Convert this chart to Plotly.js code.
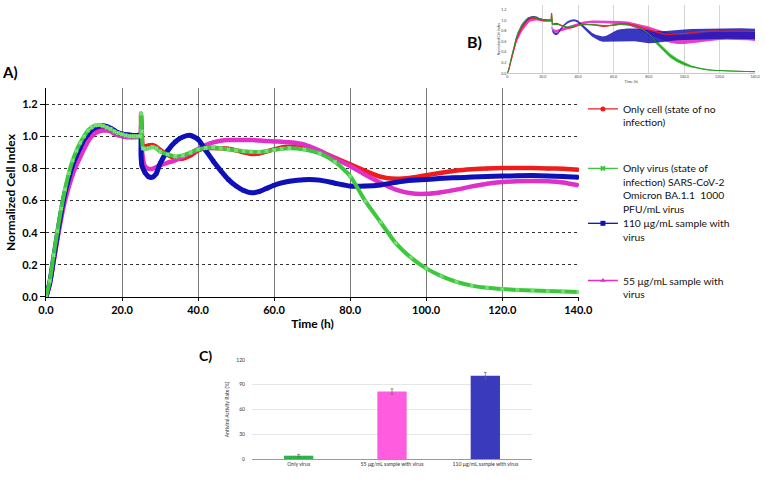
<!DOCTYPE html>
<html>
<head>
<meta charset="utf-8">
<script src="https://cdn.plot.ly/plotly-3.0.1.min.js"></script>
<style>html,body{margin:0;padding:0;background:#fff;}#chart{width:765px;height:490px;}</style>
</head>
<body>
<div id="chart"></div>
<script>
// ---------- DATA ----------
const timeH = [0,1,2,3,4,5,6,7,8,9,10,11,12,13,14,15,16,17,18,19,20,21,22,23,24,
  24.8,25,25.2,25.5,26,27,28,29,30,
  32,34,36,38,40,42,44,46,48,50,52,54,56,58,60,62,64,
  68,72,76,80,84,88,92,96,100,104,108,112,116,120,124,128,132,136,140];

const onlyCell = [0,0.085,0.23,0.375,0.51,0.625,0.715,0.79,0.85,0.9,0.95,0.99,1.02,1.04,1.05,1.05,1.045,1.035,1.02,1.01,1.005,1.0,0.998,0.997,0.998,
  0.998,1.14,1.03,0.93,0.935,0.942,0.945,0.935,0.915,
  0.885,0.862,0.862,0.88,0.912,0.925,0.927,0.925,0.922,0.912,0.9,0.89,0.893,0.905,0.918,0.93,0.935,
  0.935,0.908,0.865,0.825,0.785,0.748,0.735,0.742,0.758,0.773,0.787,0.795,0.8,0.802,0.803,0.802,0.8,0.797,0.792];

const onlyVirus = [0,0.1,0.26,0.41,0.55,0.67,0.77,0.85,0.91,0.96,1.0,1.035,1.055,1.068,1.07,1.065,1.055,1.045,1.03,1.02,1.012,1.005,1.0,1.0,1.0,
  1.0,1.14,1.03,0.925,0.922,0.925,0.933,0.925,0.905,
  0.887,0.874,0.88,0.898,0.918,0.927,0.93,0.925,0.918,0.912,0.907,0.903,0.902,0.907,0.915,0.922,0.926,
  0.918,0.893,0.84,0.752,0.596,0.465,0.335,0.245,0.178,0.13,0.094,0.071,0.057,0.049,0.044,0.04,0.037,0.034,0.031];

const sample110 = [0,0.09,0.24,0.39,0.53,0.65,0.74,0.82,0.88,0.93,0.98,1.01,1.04,1.055,1.063,1.065,1.06,1.05,1.035,1.022,1.015,1.01,1.008,1.005,1.005,
  1.005,0.88,0.82,0.8,0.775,0.748,0.745,0.768,0.83,
  0.91,0.965,0.995,1.005,0.98,0.912,0.845,0.785,0.73,0.69,0.662,0.648,0.655,0.675,0.695,0.71,0.72,
  0.73,0.727,0.708,0.69,0.69,0.697,0.713,0.726,0.731,0.738,0.742,0.746,0.75,0.752,0.754,0.755,0.753,0.75,0.745];

const sample55 = [0,0.08,0.22,0.36,0.49,0.6,0.685,0.76,0.82,0.87,0.92,0.965,1.0,1.02,1.03,1.035,1.035,1.03,1.015,1.005,1.0,0.995,0.993,0.993,0.995,
  0.995,1.07,0.94,0.86,0.815,0.797,0.797,0.808,0.82,
  0.835,0.85,0.873,0.895,0.92,0.945,0.962,0.972,0.976,0.977,0.977,0.976,0.974,0.97,0.968,0.965,0.962,
  0.948,0.91,0.86,0.815,0.76,0.71,0.668,0.645,0.642,0.652,0.668,0.688,0.705,0.715,0.72,0.722,0.72,0.712,0.695];

// standard deviations (panel B)
const sd110 = [0,0.01,0.015,0.02,0.02,0.02,0.02,0.02,0.02,0.02,0.02,0.02,0.02,0.02,0.02,0.02,0.02,0.02,0.015,0.015,0.015,0.015,0.015,0.015,0.015,
  0.015,0.02,0.02,0.02,0.02,0.02,0.02,0.02,0.02,
  0.02,0.02,0.02,0.02,0.02,0.025,0.03,0.03,0.035,0.04,0.045,0.05,0.055,0.07,0.1,0.11,0.115,
  0.12,0.12,0.12,0.12,0.11,0.1,0.1,0.1,0.1,0.1,0.1,0.1,0.1,0.1,0.1,0.1,0.1,0.1,0.1];

const sd55 = [0,0.02,0.03,0.04,0.04,0.045,0.045,0.045,0.045,0.045,0.045,0.045,0.045,0.04,0.04,0.04,0.035,0.03,0.025,0.02,0.02,0.02,0.02,0.02,0.02,
  0.02,0.03,0.03,0.03,0.03,0.03,0.03,0.03,0.03,
  0.03,0.03,0.03,0.03,0.025,0.025,0.025,0.025,0.025,0.025,0.025,0.025,0.025,0.025,0.025,0.03,0.03,
  0.035,0.045,0.06,0.07,0.08,0.09,0.09,0.09,0.085,0.085,0.085,0.085,0.085,0.085,0.085,0.085,0.085,0.085,0.085];

const sdVirus = [0,0.008,0.008,0.008,0.008,0.008,0.008,0.008,0.008,0.008,0.008,0.008,0.008,0.008,0.008,0.008,0.008,0.008,0.008,0.008,0.008,0.008,0.008,0.008,0.008,
  0.008,0.008,0.008,0.008,0.008,0.008,0.008,0.008,0.008,
  0.01,0.01,0.01,0.01,0.01,0.01,0.01,0.01,0.01,0.01,0.01,0.01,0.01,0.01,0.01,0.01,0.01,
  0.01,0.01,0.012,0.02,0.035,0.04,0.04,0.035,0.03,0.02,0.015,0.01,0.01,0.01,0.01,0.01,0.01,0.01,0.01];

// panel C
const barCats = ["Only virus", "55 μg/mL sample with virus", "110 μg/mL sample with virus"];
const barVals = [4.0, 81.8, 101.0];
const barErr = [1.6, 3.2, 4.0];

const tickVals = [0,20,40,60,80,100,120,140];
const tickTextB = ["0","20.0","40.0","60.0","80.0","100.0","120.0","140.0"];

// legend labels
const nameCell = "Only cell (state of no<br>infection)";
const nameVirus = "Only virus (state of<br>infection) SARS-CoV-2<br>Omicron BA.1.1  1000<br>PFU/mL virus";
const name110 = "110 μg/mL sample with<br>virus";
const name55 = "55 μg/mL sample with<br>virus";

// ---------- STYLE ----------
const FONT = "Lato, 'Liberation Sans', sans-serif";
const C_RED = "#EE1C1C", C_GREEN = "#3CC83C", C_BLUE = "#1010B8", C_PINK = "#E030C8";
const C_BAR = ["#2DB34A", "#FF5CE0", "#3A3ABC"];

function plus(a, s){ return a.map((v,i)=>v+s[i]); }
function minus(a, s){ return a.map((v,i)=>v-s[i]); }

const spl = {shape:"spline", smoothing:0.6};
function keyTrace(name, color, symbol, legendId){
  return {x:[null], y:[null], type:"scatter", mode:"lines+markers", name:name,
    line:{color:color, width:1.3}, marker:{symbol:symbol, size:5, color:color}, legend:legendId, hoverinfo:"skip"};
}
const traces = [
  // Panel A
  {x: timeH, y: onlyCell, type:"scatter", mode:"lines+markers", showlegend:false,
   line:Object.assign({color:C_RED, width:4.5}, spl), marker:{symbol:"circle", size:4, color:C_RED}},
  {x: timeH, y: sample55, type:"scatter", mode:"lines+markers", showlegend:false,
   line:Object.assign({color:C_PINK, width:4.5}, spl), marker:{symbol:"triangle-up", size:4, color:C_PINK}},
  {x: timeH, y: sample110, type:"scatter", mode:"lines+markers", showlegend:false,
   line:Object.assign({color:C_BLUE, width:5}, spl), marker:{symbol:"square", size:4, color:C_BLUE}},
  {x: timeH, y: onlyVirus, type:"scatter", mode:"lines+markers", showlegend:false,
   line:Object.assign({color:C_GREEN, width:4}, spl), marker:{symbol:"x", size:4, color:"#7CE07C"}},
  // legend keys
  keyTrace(nameCell, C_RED, "circle", "legend"),
  keyTrace(nameVirus, C_GREEN, "x", "legend2"),
  keyTrace(name110, C_BLUE, "square", "legend3"),
  keyTrace(name55, C_PINK, "triangle-up", "legend4"),

  // Panel B bands
  {x: timeH, y: plus(onlyVirus, sdVirus), xaxis:"x2", yaxis:"y2", mode:"lines", line:{width:0, color:C_GREEN}, showlegend:false, hoverinfo:"skip"},
  {x: timeH, y: minus(onlyVirus, sdVirus), xaxis:"x2", yaxis:"y2", mode:"lines", fill:"tonexty", fillcolor:"rgba(40,190,40,0.9)", line:{width:0, color:C_GREEN}, showlegend:false, hoverinfo:"skip"},
  {x: timeH, y: plus(sample55, sd55), xaxis:"x2", yaxis:"y2", mode:"lines", line:{width:0, color:C_PINK}, showlegend:false, hoverinfo:"skip"},
  {x: timeH, y: minus(sample55, sd55), xaxis:"x2", yaxis:"y2", mode:"lines", fill:"tonexty", fillcolor:"rgba(230,40,200,0.9)", line:{width:0, color:C_PINK}, showlegend:false, hoverinfo:"skip"},
  {x: timeH, y: plus(sample110, sd110), xaxis:"x2", yaxis:"y2", mode:"lines", line:{width:0, color:C_BLUE}, showlegend:false, hoverinfo:"skip"},
  {x: timeH, y: minus(sample110, sd110), xaxis:"x2", yaxis:"y2", mode:"lines", fill:"tonexty", fillcolor:"rgba(20,20,180,0.85)", line:{width:0, color:C_BLUE}, showlegend:false, hoverinfo:"skip"},
  {x: timeH, y: onlyCell, xaxis:"x2", yaxis:"y2", mode:"lines", line:{width:1.2, color:C_RED}, showlegend:false, hoverinfo:"skip"},
  {x: timeH, y: onlyVirus, xaxis:"x2", yaxis:"y2", mode:"lines", line:{width:1, color:"#2A9A2A"}, showlegend:false, hoverinfo:"skip"},

  // Panel C
  {x: barCats, y: barVals, type:"bar", xaxis:"x3", yaxis:"y3", showlegend:false,
   marker:{color:C_BAR}, error_y:{type:"data", array:barErr, visible:true, color:"#666", thickness:0.7, width:1.5}}
];

const legendBase = {xanchor:"left", yanchor:"top", x:0.762, bgcolor:"rgba(0,0,0,0)", borderwidth:0,
  valign:"top", font:{family:FONT, size:10.3, color:"#111"}, itemwidth:30};

const layout = {
  width:765, height:490, autosize:false,
  margin:{l:0, r:0, t:0, b:0},
  paper_bgcolor:"#fff", plot_bgcolor:"rgba(0,0,0,0)",
  font:{family:FONT, color:"#000"},
  showlegend:true,
  legend: Object.assign({}, legendBase, {y:0.8046}),
  legend2: Object.assign({}, legendBase, {y:0.6832}),
  legend3: Object.assign({}, legendBase, {y:0.5712}),
  legend4: Object.assign({}, legendBase, {y:0.4545}),
  // Panel A
  xaxis:{domain:[0.06013,0.75686], range:[0,140.2], tickvals:tickVals, tickformat:".1f",
    showgrid:true, gridcolor:"#7a7a7a", gridwidth:1, zeroline:false,
    showline:true, linecolor:"#000", linewidth:1.2, ticks:"outside", ticklen:3, tickcolor:"#000",
    tickfont:{family:FONT, size:11, weight:"bold", color:"#000"},
    title:{text:"Time (h)", font:{family:FONT, size:12, weight:"bold", color:"#000"}, standoff:4}, anchor:"y"},
  yaxis:{domain:[0.39388,0.82041], range:[0,1.3], tickvals:[0,0.2,0.4,0.6,0.8,1.0,1.2], tickformat:".1f",
    showgrid:true, gridcolor:"#333", gridwidth:1, griddash:"dot", zeroline:false,
    showline:true, linecolor:"#000", linewidth:1.2, ticks:"outside", ticklen:5, tickcolor:"#000",
    tickfont:{family:FONT, size:11, weight:"bold", color:"#000"},
    title:{text:"Normalized Cell Index", font:{family:FONT, size:12, weight:"bold", color:"#000"}, standoff:4}, anchor:"x"},
  // Panel B
  xaxis2:{domain:[0.66314,0.98693], range:[0,140], tickvals:tickVals, ticktext:tickTextB,
    showgrid:true, gridcolor:"#d6d6d6", zeroline:false, showline:true, linecolor:"#bbb", linewidth:0.8, ticks:"",
    tickfont:{family:FONT, size:3.6, color:"#444"},
    title:{text:"Time (h)", font:{family:FONT, size:3.8, color:"#444"}, standoff:1}, anchor:"y2"},
  yaxis2:{domain:[0.85041,0.99041], range:[0,1.3], tickvals:[0,0.2,0.4,0.6,0.8,1.0,1.2], tickformat:".1f",
    showgrid:false, zeroline:false, showline:false, ticks:"",
    tickfont:{family:FONT, size:3.6, color:"#444"},
    title:{text:"Normalized Cell Index", font:{family:FONT, size:3.4, color:"#444"}, standoff:1}, anchor:"x2"},
  // Panel C
  xaxis3:{domain:[0.32941,0.69542], type:"category", showgrid:false, zeroline:false,
    showline:true, linecolor:"#999", linewidth:1, ticks:"",
    tickfont:{family:FONT, size:5.2, color:"#333"}, anchor:"y3"},
  yaxis3:{domain:[0.06327,0.26531], range:[0,120], tickvals:[0,30,60,90,120],
    showgrid:true, gridcolor:"#e6e6e6", zeroline:false, showline:false,
    ticks:"outside", ticklen:5, tickcolor:"rgba(0,0,0,0)",
    tickfont:{family:FONT, size:5, color:"#333"},
    title:{text:"Antiviral Activity Rate (%)", font:{family:FONT, size:5, color:"#333"}, standoff:6}, anchor:"x3"},
  bargap:0.686,
  annotations:[
    {text:"A)", xref:"paper", yref:"paper", x:0.0, y:0.853, xanchor:"left", yanchor:"middle", showarrow:false,
     font:{family:FONT, size:15, weight:"bold", color:"#000"}},
    {text:"B)", xref:"paper", yref:"paper", x:0.6078, y:0.9143, xanchor:"left", yanchor:"middle", showarrow:false,
     font:{family:FONT, size:16, weight:"bold", color:"#000"}},
    {text:"C)", xref:"paper", yref:"paper", x:0.2575, y:0.2735, xanchor:"left", yanchor:"middle", showarrow:false,
     font:{family:FONT, size:14, weight:"bold", color:"#000"}}
  ]
};

Plotly.newPlot("chart", traces, layout, {staticPlot:true, displayModeBar:false});
</script>
</body>
</html>
